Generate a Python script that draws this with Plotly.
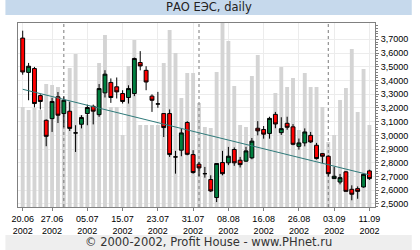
import plotly.graph_objects as go

dates = (["20.06", "21.06", "24.06", "25.06", "26.06", "27.06", "28.06"] +
         ["01.07", "02.07", "03.07", "04.07", "05.07", "08.07", "09.07", "10.07", "11.07", "12.07",
          "15.07", "16.07", "17.07", "18.07", "19.07", "22.07", "23.07", "24.07", "25.07", "26.07",
          "29.07", "30.07", "31.07"] +
         ["01.08", "02.08", "05.08", "06.08", "07.08", "08.08", "09.08", "12.08", "13.08", "14.08",
          "15.08", "16.08", "19.08", "20.08", "21.08", "22.08", "23.08", "26.08", "27.08", "28.08",
          "29.08", "30.08"] +
         ["02.09", "03.09", "04.09", "05.09", "06.09", "09.09", "10.09", "11.09"])

open_ = [3.709, 3.459, 3.487, 3.290, 3.110, 3.122, 3.281, 3.159, 3.176, 3.018,
         3.081, 3.159, 3.212, 3.151, 3.310, 3.386, 3.354, 3.305, 3.276, 3.305,
         3.531, 3.474, 3.286, 3.229, 3.159, 3.159, 2.843, 2.892, 3.094, 2.860,
         2.790, 2.721, 2.678, 2.547, 2.802, 2.800, 2.897, 2.819, 2.812, 2.836,
         3.052, 3.043, 3.014, 3.153, 3.020, 3.088, 3.062, 2.920, 2.945, 3.000,
         2.928, 2.867, 2.848, 2.685, 2.660, 2.734, 2.607, 2.612, 2.624, 2.741]
high = [3.763, 3.528, 3.499, 3.299, 3.116, 3.274, 3.316, 3.284, 3.245, 3.074,
        3.147, 3.224, 3.224, 3.374, 3.475, 3.415, 3.422, 3.329, 3.365, 3.567,
        3.614, 3.504, 3.299, 3.317, 3.162, 3.189, 2.887, 3.051, 3.104, 2.892,
        2.807, 2.770, 2.709, 2.795, 2.887, 2.916, 2.912, 2.843, 2.916, 2.981,
        3.104, 3.068, 3.136, 3.171, 3.132, 3.136, 3.082, 2.977, 3.051, 3.025,
        2.945, 2.872, 2.855, 2.770, 2.719, 2.740, 2.636, 2.628, 2.721, 2.750]
low = [3.442, 3.256, 3.204, 3.189, 2.921, 3.025, 3.090, 3.058, 3.032, 2.879,
       3.051, 3.074, 3.080, 3.135, 3.276, 3.237, 3.269, 3.232, 3.232, 3.286,
       3.474, 3.329, 3.171, 3.201, 2.988, 2.843, 2.721, 2.848, 2.855, 2.721,
       2.702, 2.692, 2.587, 2.514, 2.709, 2.783, 2.778, 2.766, 2.807, 2.826,
       3.000, 2.976, 2.976, 3.052, 3.003, 3.041, 2.928, 2.896, 2.920, 2.945,
       2.824, 2.797, 2.700, 2.682, 2.643, 2.592, 2.527, 2.538, 2.619, 2.675]
close = [3.462, 3.504, 3.232, 3.247, 2.993, 3.247, 3.147, 3.256, 3.051, 3.018,
         3.130, 3.203, 3.176, 3.341, 3.446, 3.276, 3.317, 3.247, 3.341, 3.560,
         3.506, 3.389, 3.256, 3.229, 3.057, 2.860, 2.843, 3.018, 2.862, 2.729,
         2.763, 2.721, 2.595, 2.795, 2.721, 2.848, 2.800, 2.787, 2.887, 2.958,
         3.033, 3.009, 3.124, 3.083, 3.049, 3.059, 2.935, 2.945, 3.025, 2.952,
         2.831, 2.848, 2.721, 2.702, 2.692, 2.592, 2.571, 2.592, 2.716, 2.685]
volume = [100, 97, 99, 97, 123, 122, 120, 107, 139, 153,
          92, 92, 95, 144, 172, 100, 100, 72, 141, 167,
          82, 82, 82, 82, 144, 177, 154, 109, 134, 134,
          104, 80, 79, 135, 184, 166, 121, 82, 80, 131,
          152, 75, 80, 114, 140, 120, 129, 77, 134, 120,
          120, 100, 65, 72, 107, 119, 158, 95, 138, 82]

trend_dates = ["20.06", "11.09"]
trend_values = [3.336, 2.712]
month_starts = ["01.07", "01.08", "02.09"]
label_dates = ["20.06", "27.06", "05.07", "15.07", "23.07", "31.07", "08.08",
               "16.08", "26.08", "03.09", "11.09"]
year = "2002"
price_ticks = [2.5, 2.6, 2.7, 2.8, 2.9, 3.0, 3.1, 3.2, 3.3, 3.4, 3.5, 3.6, 3.7]

W, H = 420, 250
L, R, T, B = 13, 38, 23, 43
pw, ph = W - L - R, H - T - B


def px(xp):
    return (xp - L) / pw


def py(yp):
    return (H - B - yp) / ph


idx = list(range(len(dates)))
pos = {d: i for i, d in enumerate(dates)}

fig = go.Figure()
# volume bars on the (hidden) main axis -> drawn underneath
fig.add_trace(go.Bar(x=idx, y=volume, yaxis="y", marker=dict(color="#d4d4d4", line=dict(width=0)),
                     width=0.66, showlegend=False, hoverinfo="skip"))
# month separators, above the volume bars
for m in month_starts:
    fig.add_trace(go.Scatter(x=[pos[m], pos[m]], y=[0, ph], yaxis="y", mode="lines",
                             line=dict(color="#7a7a7a", width=1, dash="3px,3px"),
                             showlegend=False, hoverinfo="skip"))
# price traces on the overlaying visible axis
fig.add_trace(go.Scatter(x=[pos[d] for d in trend_dates], y=trend_values, yaxis="y2", mode="lines",
                         line=dict(color="#2f7a7a", width=1), showlegend=False, hoverinfo="skip"))
fig.add_trace(go.Candlestick(x=idx, open=open_, high=high, low=low, close=close, yaxis="y2",
                             increasing=dict(fillcolor="#007f3f", line=dict(color="#000000", width=1)),
                             decreasing=dict(fillcolor="#ff0000", line=dict(color="#000000", width=1)),
                             whiskerwidth=0, showlegend=False))

shapes = [
    dict(type="rect", xref="paper", yref="paper", x0=px(0), x1=px(W), y0=py(15), y1=py(0),
         fillcolor="#c6d9ec", line=dict(width=0), layer="below"),
    dict(type="rect", xref="paper", yref="paper", x0=px(0), x1=px(W), y0=py(250), y1=py(235),
         fillcolor="#eeeeee", line=dict(width=0), layer="below"),
]

fig.update_layout(
    width=W, height=H, margin=dict(l=L, r=R, t=T, b=B, pad=0),
    paper_bgcolor="#ffffff", plot_bgcolor="#ffffff",
    separators=", ",
    boxgap=0.34, boxgroupgap=0, bargap=0.34,
    shapes=shapes,
    annotations=[
        dict(text="РАО ЕЭС, daily", xref="paper", yref="paper", x=px(210), y=py(7.5),
             showarrow=False, xanchor="center", yanchor="middle",
             font=dict(family="DejaVu Sans", size=11.5, color="#222222")),
        dict(text="© 2000-2002, Profit House - www.PHnet.ru", xref="paper", yref="paper",
             x=px(210), y=py(242.5), showarrow=False, xanchor="center", yanchor="middle",
             font=dict(family="DejaVu Sans", size=11.5, color="#333333")),
    ],
    xaxis=dict(type="linear", range=[-0.8, 59.95], rangeslider=dict(visible=False),
               tickmode="array", tickvals=[pos[d] for d in label_dates],
               ticktext=[d + "<br>" + year for d in label_dates],
               ticks="outside", ticklen=3, tickcolor="#808080",
               showgrid=True, gridcolor="#ececec", gridwidth=1,
               showline=True, linecolor="#808080", linewidth=1, mirror=True,
               tickfont=dict(family="Liberation Sans", size=9, color="#000000"),
               zeroline=False, fixedrange=True),
    yaxis=dict(range=[0, ph], visible=False, showgrid=False, fixedrange=True),
    yaxis2=dict(overlaying="y", side="right", range=[2.478, 3.819], tickmode="array",
                tickvals=price_ticks, tickformat=".4f", ticks="outside", ticklen=3, tickcolor="#808080",
                showgrid=True, gridcolor="#ececec", gridwidth=1,
                showline=True, linecolor="#808080", linewidth=1, mirror=True,
                minor=dict(ticks="outside", ticklen=2, dtick=0.02, tick0=2.5, tickcolor="#808080",
                           showgrid=False),
                tickfont=dict(family="Liberation Sans", size=9, color="#000000"),
                zeroline=False, fixedrange=True),
)

fig.write_html("out.html")
